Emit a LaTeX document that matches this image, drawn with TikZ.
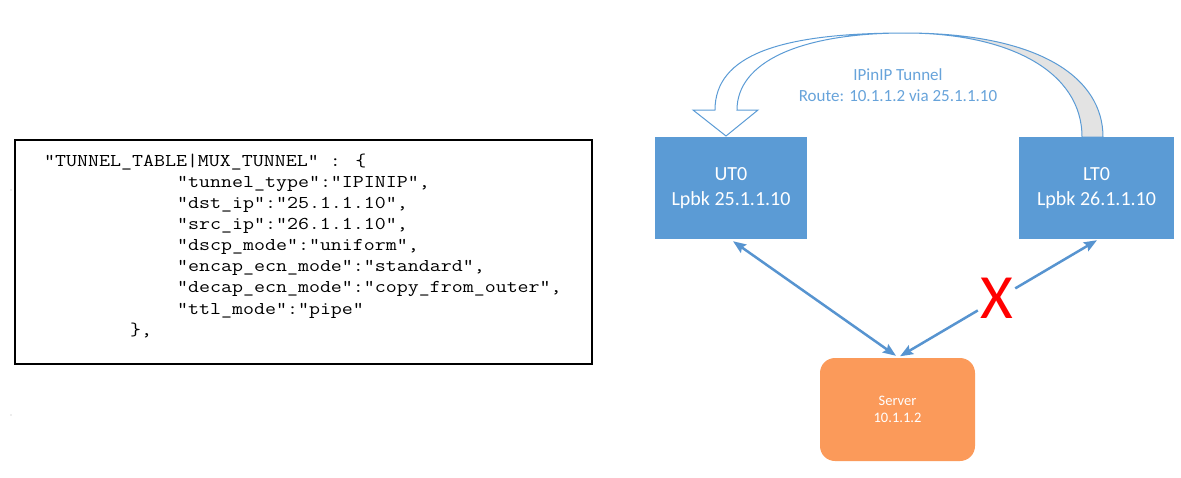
\documentclass[tikz,border=0pt]{standalone}
\usepackage{fontspec}
\setmainfont{Carlito}
\newfontfamily\codefont[FakeStretch=1.185]{Latin Modern Mono}
\usetikzlibrary{arrows.meta,calc}
\definecolor{boxblue}{HTML}{5B9BD5}
\definecolor{arrblue}{HTML}{5794D0}
\definecolor{lblblue}{HTML}{67A3DA}
\definecolor{tubegray}{HTML}{E3E3E3}
\definecolor{srvorange}{HTML}{FB9A5A}
\tikzset{
  codeline/.style={anchor=base west,inner sep=0pt,font=\codefont\fontsize{18}{21}\selectfont},
  bluebox/.style={fill=boxblue,draw=none,text=white,minimum width=152pt,minimum height=102pt,align=center,font=\fontsize{20}{25}\selectfont,inner sep=0pt},
  serverbox/.style={fill=srvorange,draw=none,rounded corners=15pt,text=white,minimum width=155pt,minimum height=103pt,align=center,font=\fontsize{14.5}{17}\selectfont,inner sep=0pt},
  link/.style={draw=arrblue,line width=2.5pt},
  tipend/.style={-{Stealth[length=13pt,width=10pt,inset=2pt]}},
  tipstart/.style={{Stealth[length=13pt,width=10pt,inset=2pt]}-},
  tipboth/.style={{Stealth[length=13pt,width=10pt,inset=2pt]}-{Stealth[length=13pt,width=10pt,inset=2pt]}},
  tube/.style={draw=boxblue,line width=1pt,line join=miter},
}
\begin{document}
\begin{tikzpicture}[x=1pt,y=-1pt]
\useasboundingbox (0,0) rectangle (1181,477);
% tiny dots
\fill[gray!60] (11,190) circle (0.7);
\fill[gray!60] (11,415) circle (0.7);
% code box
\draw[line width=1.4pt] (15,140) rectangle (592,364);
\node[codeline] (c1) at (44,166) {"TUNNEL\_TABLE|MUX\_TUNNEL" : \{};
\node[codeline] (c2) at (177,187.2) {"tunnel\_type":"IPINIP",};
\node[codeline] (c3) at (177,208.3) {"dst\_ip":"25.1.1.10",};
\node[codeline] (c4) at (177,229.5) {"src\_ip":"26.1.1.10",};
\node[codeline] (c5) at (177,250.6) {"dscp\_mode":"uniform",};
\node[codeline] (c6) at (177,271.8) {"encap\_ecn\_mode":"standard",};
\node[codeline] (c7) at (177,292.9) {"decap\_ecn\_mode":"copy\_from\_outer",};
\node[codeline] (c8) at (177,314.1) {"ttl\_mode":"pipe"};
\node[codeline] (c9) at (130,335.2) {\},};
% tunnel arrow
\def\tubepath{(1082,137) .. controls (1082,72) and (1010,33) .. (905,33)
  .. controls (780,33) and (715,55) .. (715,110)
  -- (693,110) -- (726,136) -- (758,110) -- (737,110)
  .. controls (737,62) and (800,33) .. (905,33)
  .. controls (1040,33) and (1103,78) .. (1103,137) -- cycle}
\begin{scope}
\clip (905,0) rectangle (1181,200);
\fill[tubegray] \tubepath;
\end{scope}
\draw[tube] \tubepath;
\node[text=lblblue,align=center,font=\fontsize{17}{21}\selectfont] (lbl) at (898,85) {IPinIP Tunnel\\Route: 10.1.1.2 via 25.1.1.10};
% boxes
\node[bluebox] (UT0) at (731,188) {UT0\\Lpbk 25.1.1.10};
\node[bluebox,minimum width=155pt] (LT0) at (1096.5,188) {LT0\\Lpbk 26.1.1.10};
\node[serverbox] (Server) at (897.5,409.5) {Server\\10.1.1.2};
% links
\draw[link,tipboth] ([shift={(2,2)}]UT0.south) -- ([shift={(-1.5,-2)}]Server.north);
\coordinate (p) at ([shift={(0.5,1)}]LT0.south);
\coordinate (q) at ([shift={(2.5,-1.5)}]Server.north);
\coordinate (b1) at ($(p)!0.415!(q)$);
\coordinate (b2) at ($(p)!0.605!(q)$);
\draw[link,tipstart] (p) -- (b1);
\draw[link,tipend] (b2) -- (q);
\node[text=red,font=\fontsize{63}{63}\selectfont,inner sep=0pt] (X) at (997,298) {X};
\end{tikzpicture}
\end{document}
